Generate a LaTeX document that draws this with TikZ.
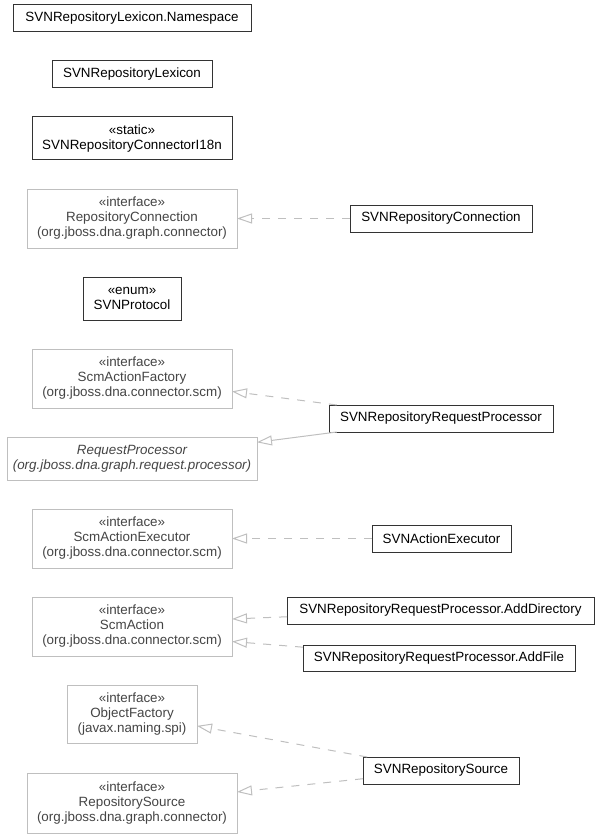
\documentclass[tikz,border=0pt]{standalone}
\usepackage{fontspec}
\setmainfont{Liberation Sans}
\usetikzlibrary{arrows.meta}
\definecolor{lightline}{HTML}{BFBFBF}
\definecolor{greytext}{HTML}{454545}
\begin{document}
\begin{tikzpicture}[x=1pt,y=-1pt,
  every node/.style={font=\fontsize{13.4pt}{15pt}\selectfont, align=center, inner sep=0pt, outer sep=0pt},
  cls/.style={draw=black!80, line width=1pt, fill=white, text=black},
  ext/.style={draw=lightline, line width=1pt, fill=white, text=greytext},
  sz/.style 2 args={minimum width=#1pt, minimum height=#2pt},
  realize/.style={draw=lightline, line width=1pt, dash pattern=on 8pt off 8pt, -{Triangle[open, length=15pt, width=10pt, line width=1pt]}},
  inherit/.style={draw=lightline, line width=1pt, -{Triangle[open, length=15pt, width=10pt, line width=1pt]}}
]
\useasboundingbox (0,0) rectangle (600,837);
% left column
\node[cls, sz={238}{27}] (ns) at (132,18.5) {SVNRepositoryLexicon.Namespace};
\node[cls, sz={160}{27}] (lex) at (132,74.5) {SVNRepositoryLexicon};
\node[cls, sz={200}{43}] (i18n) at (132,138.5) {«static»\\SVNRepositoryConnectorI18n};
\node[ext, sz={210}{59}] (rc) at (132,218.5) {«interface»\\RepositoryConnection\\(org.jboss.dna.graph.connector)};
\node[cls, sz={98}{43}] (proto) at (132,298.5) {«enum»\\SVNProtocol};
\node[ext, sz={200}{59}] (saf) at (132,378.5) {«interface»\\ScmActionFactory\\(org.jboss.dna.connector.scm)};
\node[ext, sz={250}{43}, font=\fontsize{13.4pt}{15pt}\selectfont\itshape] (rp) at (132,458.5) {RequestProcessor\\(org.jboss.dna.graph.request.processor)};
\node[ext, sz={200}{59}] (sae) at (132,538.5) {«interface»\\ScmActionExecutor\\(org.jboss.dna.connector.scm)};
\node[ext, sz={200}{59}] (sa) at (132,626.5) {«interface»\\ScmAction\\(org.jboss.dna.connector.scm)};
\node[ext, sz={130}{58}] (of) at (132,714) {«interface»\\ObjectFactory\\(javax.naming.spi)};
\node[ext, sz={210}{60}] (rs) at (132,803) {«interface»\\RepositorySource\\(org.jboss.dna.graph.connector)};
% right column
\node[cls, sz={182}{27}] (conn) at (441,218.5) {SVNRepositoryConnection};
\node[cls, sz={224}{27}] (rrp) at (441,418.5) {SVNRepositoryRequestProcessor};
\node[cls, sz={139}{27}] (exec) at (441.5,538.5) {SVNActionExecutor};
\node[cls, sz={307}{27}] (adddir) at (440.5,610.5) {SVNRepositoryRequestProcessor.AddDirectory};
\node[cls, sz={272}{26}] (addfile) at (439,658) {SVNRepositoryRequestProcessor.AddFile};
\node[cls, sz={156}{27}] (src) at (441,770.5) {SVNRepositorySource};
% connectors
\draw[realize] (conn) -- (rc);
\draw[realize] (rrp) -- (saf);
\draw[inherit] (rrp) -- (rp);
\draw[realize] (exec) -- (sae);
\draw[realize] (adddir) -- ([yshift=7.5pt]sa.east);
\draw[realize] (addfile) -- ([yshift=-15pt]sa.east);
\draw[realize] (src) -- (of);
\draw[realize] (src) -- (rs);
\end{tikzpicture}
\end{document}
